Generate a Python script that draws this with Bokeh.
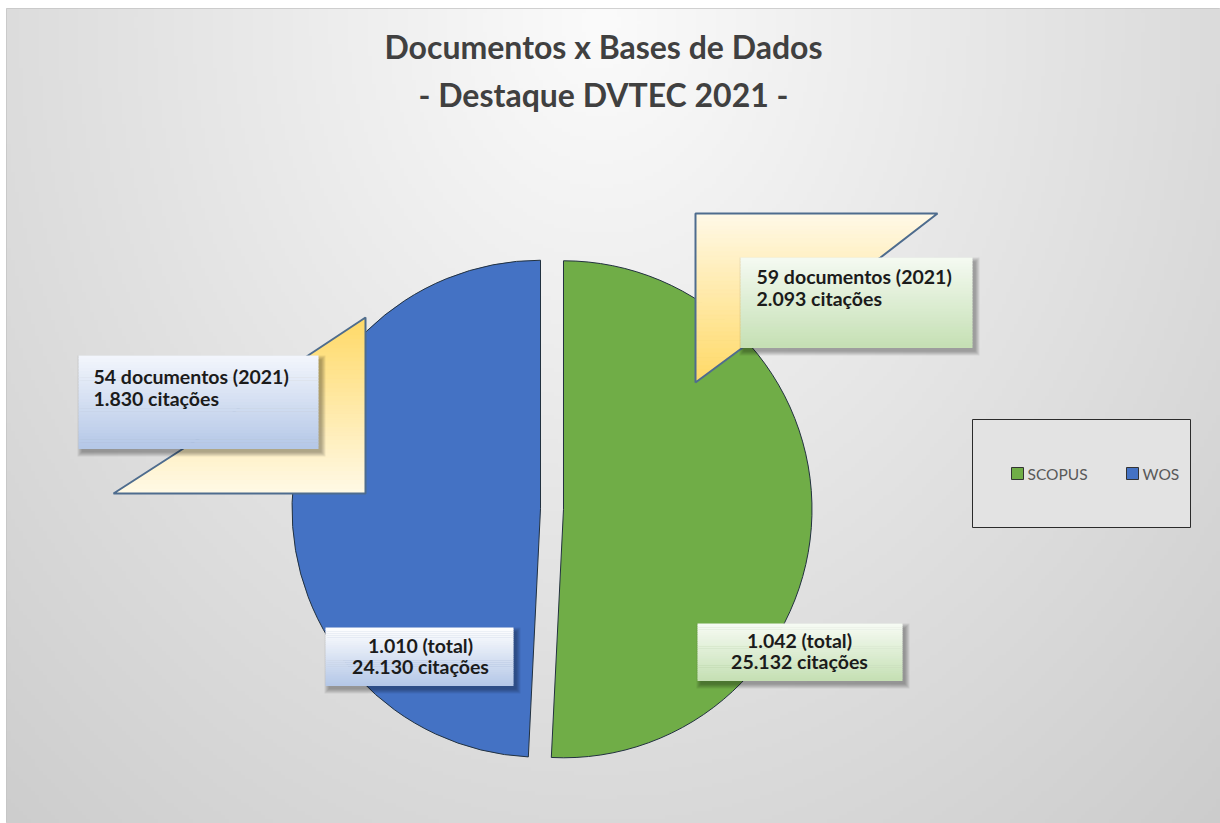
import numpy as np
from bokeh.plotting import figure
from bokeh.models import Range1d
from bokeh.core.properties import value
from bokeh.embed import file_html
from bokeh.resources import INLINE

# ---------------- data ----------------
categories = ["SCOPUS", "WOS"]
docs_total = [1042, 1010]
cites_total = [25132, 24130]
docs_2021 = [59, 54]
cites_2021 = [2093, 1830]
slice_colors = ["#70AD47", "#4472C4"]
title_lines = ["Documentos x Bases de Dados", "- Destaque DVTEC 2021 -"]


def br(v):
    return f"{v:,}".replace(",", ".")


W, H = 1220, 823
L, T = 6, 8
FONT = value("Lato")


def Y(yr):
    return H - yr


p = figure(width=W, height=H, x_range=Range1d(L, W), y_range=Range1d(0, H - T),
           output_backend="svg", toolbar_location=None,
           min_border_left=L, min_border_top=T, min_border_right=0, min_border_bottom=0)
p.axis.visible = False
p.grid.visible = False
p.outline_line_color = "#c4c4c4"
p.background_fill_color = "#dedede"
p.border_fill_color = "white"

# ---------------- background gradient ----------------
nx, ny = 306, 204
xs = np.linspace(L, W, nx)
ys_data = np.linspace(0, H - T, ny)
XX, YY = np.meshgrid(xs, ys_data)
YR = H - YY
r = np.sqrt(((XX - 600) / 700.0) ** 2 + ((YR - 20) / 850.0) ** 2)
v = np.clip(251 - 36 * r, 195, 255).astype(np.uint32)
img = (255 << 24) | (v << 16) | (v << 8) | v
p.image_rgba(image=[img.astype(np.uint32)], x=L, y=0, dw=W - L, dh=H - T)

# ---------------- helpers ----------------
def lerp_color(c0, c1, t):
    a = [int(c0[i:i + 2], 16) for i in (1, 3, 5)]
    b = [int(c1[i:i + 2], 16) for i in (1, 3, 5)]
    return "#%02x%02x%02x" % tuple(int(round(a[k] + (b[k] - a[k]) * t)) for k in range(3))


def clip(poly, yv, keep_above):
    out = []
    n = len(poly)
    for i in range(n):
        P, Q = poly[i], poly[(i + 1) % n]
        inP = (P[1] >= yv) if keep_above else (P[1] <= yv)
        inQ = (Q[1] >= yv) if keep_above else (Q[1] <= yv)
        if inP:
            out.append(P)
        if inP != inQ:
            t = (yv - P[1]) / (Q[1] - P[1])
            out.append((P[0] + t * (Q[0] - P[0]), yv))
    return out


def gradient_polygon(poly, c_top, c_bot, n=40, line_color="#4E6C8E"):
    ys_ = [q[1] for q in poly]
    y0, y1 = min(ys_), max(ys_)
    pxs, pys, cols = [], [], []
    for i in range(n):
        a = y0 + (y1 - y0) * i / n
        b = y0 + (y1 - y0) * (i + 1) / n + 0.6
        part = clip(clip(poly, a, True), b, False)
        if len(part) < 3:
            continue
        pxs.append([q[0] for q in part])
        pys.append([Y(q[1]) for q in part])
        cols.append(lerp_color(c_top, c_bot, (i + 0.5) / n))
    p.patches(pxs, pys, fill_color=cols, line_color=cols, line_width=0.8)
    p.patch([q[0] for q in poly], [Y(q[1]) for q in poly], fill_alpha=0,
            line_color=line_color, line_width=2)


def gradient_box(x0, y0, x1, y1, c_top, c_bot, n=30, shadow=True):
    if shadow:
        for k in range(5):
            p.quad(left=x0 + 3 - k, right=x1 + 3 + k, top=Y(y0 + 4 - k), bottom=Y(y1 + 4 + k),
                   fill_color="#000000", fill_alpha=0.07, line_alpha=0)
    lefts, rights, tops, bots, cols = [], [], [], [], []
    for i in range(n):
        a = y0 + (y1 - y0) * i / n
        b = y0 + (y1 - y0) * (i + 1) / n
        lefts.append(x0)
        rights.append(x1)
        tops.append(Y(a))
        bots.append(Y(b) - 0.5)
        cols.append(lerp_color(c_top, c_bot, (i + 0.5) / n))
    p.quad(left=lefts, right=rights, top=tops, bottom=bots, fill_color=cols, line_color=None)


# ---------------- pie ----------------
total = float(sum(docs_total))
base_x, base_y = 551.5, Y(508.5)
radius = 248.5
explode = 11.5
cum = 0.0
for i, val in enumerate(docs_total):
    a_end = 90 - cum * 360 / total
    cum += val
    a_start = 90 - cum * 360 / total
    mid = np.radians((a_start + a_end) / 2)
    cx = base_x + explode * np.cos(mid)
    cy = base_y + explode * np.sin(mid)
    p.wedge(x=cx, y=cy, radius=radius, start_angle=np.radians(a_start),
            end_angle=np.radians(a_end), direction="anticlock",
            fill_color=slice_colors[i], line_color="#22313f", line_width=1)

# ---------------- callouts (2021 highlights) ----------------
left_poly = [(113, 493), (365, 493), (365, 317), (300, 360), (200, 437)]
gradient_polygon(left_poly, "#FFD966", "#FFF9E6")
right_poly = [(695, 213), (937, 213), (880, 257), (745, 345), (695, 382)]
gradient_polygon(right_poly, "#FFF9E8", "#FFD966")

gradient_box(78, 355, 318, 448, "#F3F6FC", "#B4C7E7")
gradient_box(740, 257, 972, 347, "#F5FAF2", "#C5E0B4")

TXT = dict(text_font=FONT, text_font_style="bold", text_font_size="19.5px",
           text_color="#1b1b1b", text_baseline="middle")
# WOS 2021
p.text(x=[93, 93], y=[Y(376), Y(398)],
       text=[f"{docs_2021[1]} documentos (2021)", f"{br(cites_2021[1])} citações"],
       text_align="left", **TXT)
# SCOPUS 2021
p.text(x=[756, 756], y=[Y(276), Y(298)],
       text=[f"{docs_2021[0]} documentos (2021)", f"{br(cites_2021[0])} citações"],
       text_align="left", **TXT)

# ---------------- totals ----------------
gradient_box(325, 627, 513, 685, "#FFFFFF", "#B4C7E7")
gradient_box(697, 623, 902, 680, "#F7FBF4", "#C5E0B4")
p.text(x=[420, 420], y=[Y(645), Y(666)],
       text=[f"{br(docs_total[1])} (total)", f"{br(cites_total[1])} citações"],
       text_align="center", **TXT)
p.text(x=[799, 799], y=[Y(640), Y(661)],
       text=[f"{br(docs_total[0])} (total)", f"{br(cites_total[0])} citações"],
       text_align="center", **TXT)

# ---------------- legend ----------------
p.quad(left=972, right=1190, top=Y(419), bottom=Y(527), fill_color="#e3e3e3",
       line_color="#2b2b2b", line_width=1)
leg_x = [1011, 1126]
p.quad(left=leg_x, right=[x + 12 for x in leg_x], top=Y(467), bottom=Y(479),
       fill_color=slice_colors, line_color="#333333", line_width=1)
p.text(x=[x + 16 for x in leg_x], y=[Y(473.5)] * 2, text=categories,
       text_font=FONT, text_font_size="15.5px", text_color="#595959",
       text_baseline="middle", text_align="left")

# ---------------- title ----------------
p.text(x=[603, 603], y=[Y(46), Y(94)], text=title_lines, text_font=FONT,
       text_font_style="bold", text_font_size="32px", text_color="#404040",
       text_baseline="middle", text_align="center")

open("out.html", "w").write(file_html(p, INLINE))
